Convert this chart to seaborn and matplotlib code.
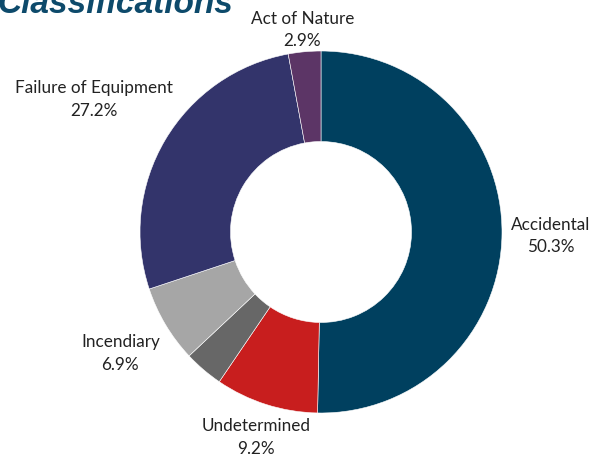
import numpy as np
import seaborn as sns
import matplotlib.pyplot as plt

sns.set_theme(style="white")
plt.rcParams['font.family'] = ['Lato', 'DejaVu Sans']

# data
categories = ["Accidental", "Undetermined", "", "Incendiary", "Failure of Equipment", "Act of Nature"]
shares = [50.3, 9.2, 3.5, 6.9, 27.2, 2.9]
colors = sns.color_palette(["#00405f", "#c81e1e", "#676767", "#a6a6a6", "#33346b", "#5c3566"])
label_dist = [1.27, 1.18, 1.0, 1.29, 1.46, 1.13]

fig = plt.figure(figsize=(6.07, 4.54), dpi=100)
W, H = 607, 454
cx, cy, r = 321, 232, 181
ax = fig.add_axes([(cx - r) / W, (H - cy - r) / H, 2 * r / W, 2 * r / H])

wedges, _ = ax.pie(shares, colors=colors, startangle=90, counterclock=False,
                   wedgeprops=dict(width=0.5, edgecolor="white", linewidth=0.4))
ax.set_xlim(-1, 1)
ax.set_ylim(-1, 1)
ax.set_aspect("equal")
ax.axis("off")

# labels outside the ring
for w, name, val, d in zip(wedges, categories, shares, label_dist):
    if not name:
        continue
    ang = np.deg2rad((w.theta1 + w.theta2) / 2)
    ax.text(d * np.cos(ang), d * np.sin(ang) - 0.01, f"{name}\n{val:.1f}%",
            ha="center", va="center", fontsize=12.3, color="#222222",
            linespacing=1.5, clip_on=False)

fig.text(-0.004, 1 - 13 / H, "Classifications", ha="left", va="baseline",
         fontsize=24, fontweight="bold", fontstyle="italic", color="#0d4a6b",
         family=["Liberation Sans", "DejaVu Sans"])

fig.savefig("out.png", dpi=100)
